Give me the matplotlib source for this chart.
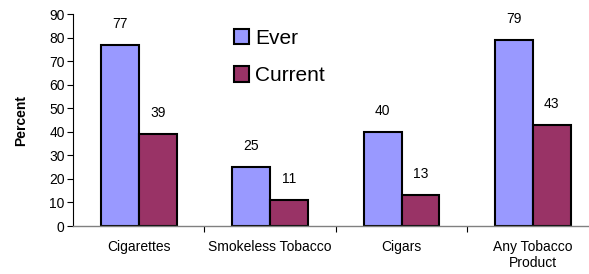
import matplotlib
matplotlib.use("Agg")
import matplotlib.pyplot as plt
import numpy as np
from matplotlib.patches import Patch

categories = ["Cigarettes", "Smokeless Tobacco", "Cigars", "Any Tobacco\nProduct"]
ever = [77, 25, 40, 79]
current = [39, 11, 13, 43]
series_names = ["Ever", "Current"]
yticks = list(range(0, 91, 10))

plt.rcParams['font.family'] = ['Liberation Sans', 'DejaVu Sans']

W, H = 589, 274
fig = plt.figure(figsize=(W/100, H/100), dpi=100)
left, right, bottom, top = 73, 598.6, 226, 14
ax = fig.add_axes([left/W, 1-bottom/H, (right-left)/W, (bottom-top)/H])

x = np.arange(len(categories))
bw = 0.288
c_ever = "#9999FF"
c_cur = "#993366"
fs = 10
b1 = ax.bar(x - bw/2, ever, bw, color=c_ever, edgecolor="black", linewidth=1.5)
b2 = ax.bar(x + bw/2, current, bw, color=c_cur, edgecolor="black", linewidth=1.5)

for bars, vals in ((b1, ever), (b2, current)):
    for r, v in zip(bars, vals):
        ax.annotate(str(v), (r.get_x() + r.get_width()/2, v), xytext=(0, 10),
                    textcoords="offset points", ha="center", va="bottom", fontsize=fs)

ax.set_xlim(-0.5, len(categories) - 0.5)
ax.set_ylim(0, 90)
ax.set_yticks(yticks)
ax.tick_params(axis='y', labelsize=fs, length=4, width=0.8, pad=2)
ax.set_xticks(x)
ax.set_xticklabels(categories, fontsize=fs)
ax.tick_params(axis='x', length=0, pad=10)
ax.set_xticks(np.arange(0.5, len(categories) - 0.5, 1), minor=True)
ax.tick_params(axis='x', which='minor', length=4, width=0.8, color='black')

for s in ("top", "right"):
    ax.spines[s].set_visible(False)
ax.spines["left"].set_linewidth(0.8)
ax.spines["bottom"].set_color("#808080")
ax.spines["bottom"].set_linewidth(1.0)

ax.set_ylabel("Percent", fontsize=fs, fontweight="bold", labelpad=15)

handles = [Patch(facecolor=c_ever, edgecolor="black", linewidth=1.5),
           Patch(facecolor=c_cur, edgecolor="black", linewidth=1.5)]
leg = ax.legend(handles, series_names, loc="upper left", bbox_to_anchor=((219-left)/(right-left), 1.0),
                frameon=False, fontsize=15, handlelength=0.75, handleheight=0.75,
                handletextpad=0.3, labelspacing=0.9, borderaxespad=0.3)

fig.savefig("out.png", dpi=100)
